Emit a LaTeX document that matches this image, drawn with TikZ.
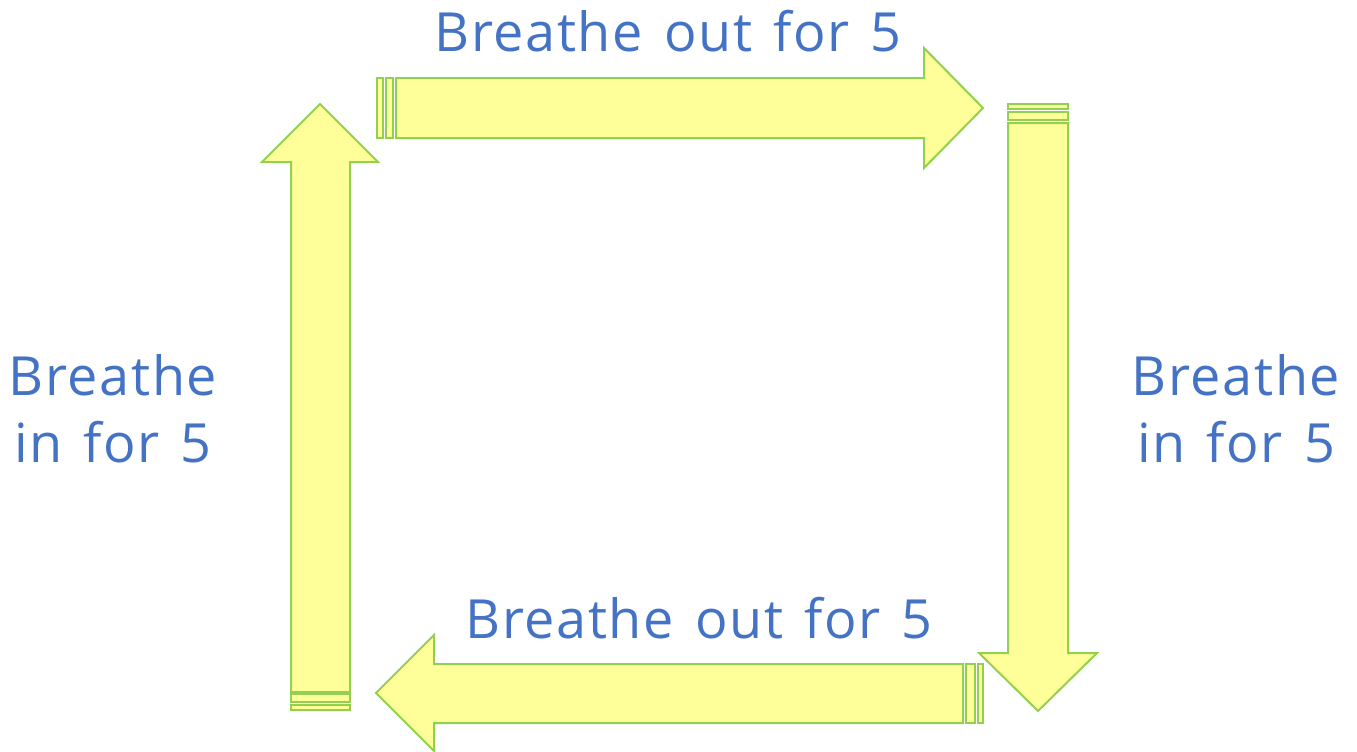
\documentclass[tikz,border=0pt]{standalone}
\usepackage{fontspec}
\setmainfont[LetterSpace=3,WordSpace=1.35]{Open Sans}
\definecolor{txtblue}{HTML}{4472C4}
\definecolor{arrfill}{HTML}{FFFF99}
\definecolor{arrline}{HTML}{92D050}
\begin{document}
\begin{tikzpicture}[x=1pt,y=-1pt,
  arrowbody/.style={fill=arrfill,draw=arrline,line width=2pt,line join=miter},
  stripe/.style={fill=arrfill,draw=arrline,line width=2pt},
  lbl/.style={text=txtblue,font=\fontsize{54}{66}\selectfont,anchor=base,inner sep=0pt,align=center}]
\useasboundingbox (0,0) rectangle (1357,752);
% top arrow (right)
\draw[stripe] (377,78) rectangle (383,138);
\draw[stripe] (386,78) rectangle (393,138);
\draw[arrowbody] (396,78) -- (924,78) -- (924,48) -- (983,108) -- (924,168) -- (924,138) -- (396,138) -- cycle;
% right arrow (down)
\draw[stripe] (1008,104) rectangle (1068,109);
\draw[stripe] (1008,112) rectangle (1068,120);
\draw[arrowbody] (1008,123) -- (1068,123) -- (1068,653) -- (1097,653) -- (1038,711) -- (979,653) -- (1008,653) -- cycle;
% bottom arrow (left)
\draw[stripe] (966,664) rectangle (975,723);
\draw[stripe] (978,664) rectangle (983,723);
\draw[arrowbody] (963,664) -- (434,664) -- (434,635) -- (376,693) -- (434,751) -- (434,723) -- (963,723) -- cycle;
% left arrow (up)
\draw[stripe] (291,694) rectangle (350,702);
\draw[stripe] (291,705) rectangle (350,710);
\draw[arrowbody] (291,692) -- (291,162) -- (262,162) -- (320,104) -- (378,162) -- (350,162) -- (350,692) -- cycle;
% labels
\node[lbl] (top) at (668,52) {Breathe out for 5};
\node[lbl] (bot) at (699,638) {Breathe out for 5};
\node[lbl] (left1) at (113,395) {Breathe};
\node[lbl] (left2) at (113,462) {in for 5};
\node[lbl] (right1) at (1236,395) {Breathe};
\node[lbl] (right2) at (1236,462) {in for 5};
\end{tikzpicture}
\end{document}
